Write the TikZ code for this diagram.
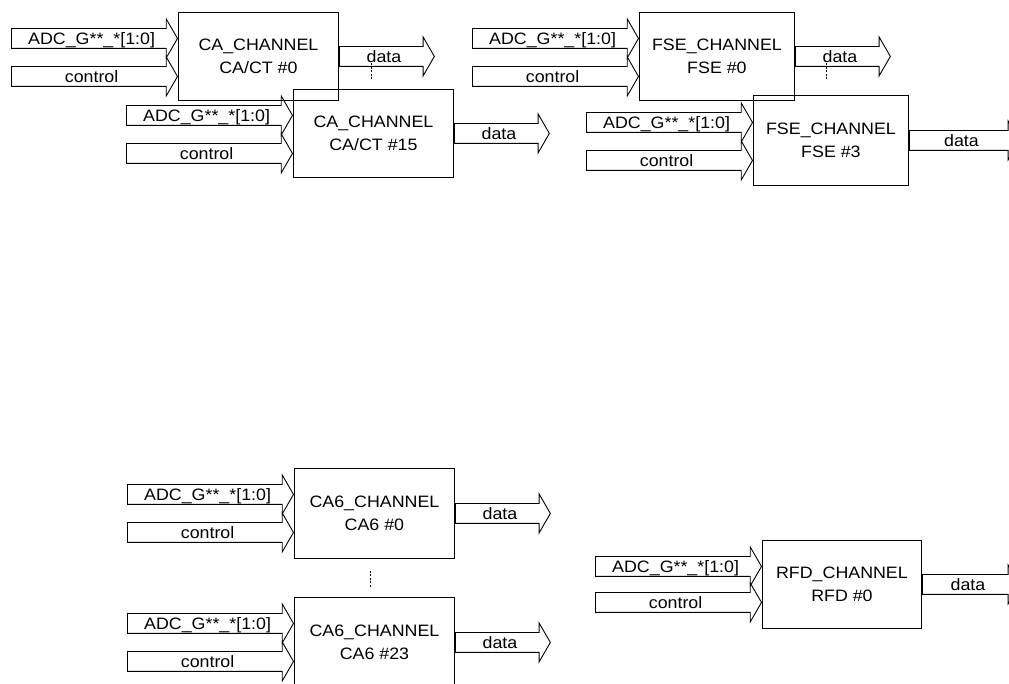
\documentclass[tikz,border=0pt]{standalone}
\usepackage{fontspec}
\setmainfont{Liberation Sans}[FakeStretch=1.08]
\usetikzlibrary{shapes.arrows,calc}

\tikzstyle{every node}=[font=\fontsize{16.5}{23}\selectfont]
\tikzstyle{channel}=[draw, minimum width=160pt, minimum height=88pt, align=center, anchor=north west]
\tikzstyle{bus}=[draw, single arrow, single arrow head extend=9.5pt, single arrow tip angle=120, inner ysep=2pt, text height=14pt, text depth=1pt]
\tikzstyle{busin}=[bus, minimum height=166pt, anchor=tip]
\tikzstyle{busout}=[bus, minimum height=95pt, anchor=tail]
\tikzstyle{more}=[dash pattern=on 2pt off 1.5pt]

\begin{document}
\begin{tikzpicture}[x=1pt, y=-1pt, line width=0.9pt]
    \useasboundingbox (0,0) rectangle (1009,684);
    \clip (0,0) rectangle (1009,684);

    \node [channel] (ca0) at (178,12) {CA\_CHANNEL\\CA/CT \#0};
    \node [busin] (ca0adc) at ($(ca0.west)+(0,-18)$) {ADC\_G**\_*[1:0]};
    \node [busin] (ca0ctl) at ($(ca0.west)+(0,20)$) {control};
    \node [busout] (ca0data) at (ca0.east) {data};
    \draw [more] ($(ca0.east)+(33,7)$) -- ++(0,17);

    \node [channel] (ca15) at (293,89) {CA\_CHANNEL\\CA/CT \#15};
    \node [busin] (ca15adc) at ($(ca15.west)+(0,-18)$) {ADC\_G**\_*[1:0]};
    \node [busin] (ca15ctl) at ($(ca15.west)+(0,20)$) {control};
    \node [busout] (ca15data) at (ca15.east) {data};

    \node [channel, minimum width=155pt] (fse0) at (639,12) {FSE\_CHANNEL\\FSE \#0};
    \node [busin] (fse0adc) at ($(fse0.west)+(0,-18)$) {ADC\_G**\_*[1:0]};
    \node [busin] (fse0ctl) at ($(fse0.west)+(0,20)$) {control};
    \node [busout] (fse0data) at (fse0.east) {data};
    \draw [more] ($(fse0.east)+(32,7)$) -- ++(0,17);

    \node [channel, minimum width=155pt, minimum height=90pt] (fse3) at (753,95) {FSE\_CHANNEL\\FSE \#3};
    \node [busin] (fse3adc) at ($(fse3.west)+(0,-18)$) {ADC\_G**\_*[1:0]};
    \node [busin] (fse3ctl) at ($(fse3.west)+(0,20)$) {control};
    \node [busout, minimum height=110pt] (fse3data) at (fse3.east) {data};

    \node [channel, minimum height=90pt] (ca6a) at (294,468) {CA6\_CHANNEL\\CA6 \#0};
    \node [busin] (ca6aadc) at ($(ca6a.west)+(0,-19)$) {ADC\_G**\_*[1:0]};
    \node [busin] (ca6actl) at ($(ca6a.west)+(0,19)$) {control};
    \node [busout] (ca6adata) at (ca6a.east) {data};

    \node [channel, minimum height=90pt] (ca6b) at (294,597) {CA6\_CHANNEL\\CA6 \#23};
    \node [busin] (ca6badc) at ($(ca6b.west)+(0,-19)$) {ADC\_G**\_*[1:0]};
    \node [busin] (ca6bctl) at ($(ca6b.west)+(0,19)$) {control};
    \node [busout] (ca6bdata) at (ca6b.east) {data};
    \draw [more] ($(ca6a.south)+(-4,12)$) -- ($(ca6b.north)+(-4,-9)$);

    \node [channel, minimum width=159pt] (rfd0) at (762,540) {RFD\_CHANNEL\\RFD \#0};
    \node [busin] (rfd0adc) at ($(rfd0.west)+(0,-18)$) {ADC\_G**\_*[1:0]};
    \node [busin] (rfd0ctl) at ($(rfd0.west)+(0,18)$) {control};
    \node [busout, minimum height=97pt] (rfd0data) at (rfd0.east) {data};
\end{tikzpicture}
\end{document}
